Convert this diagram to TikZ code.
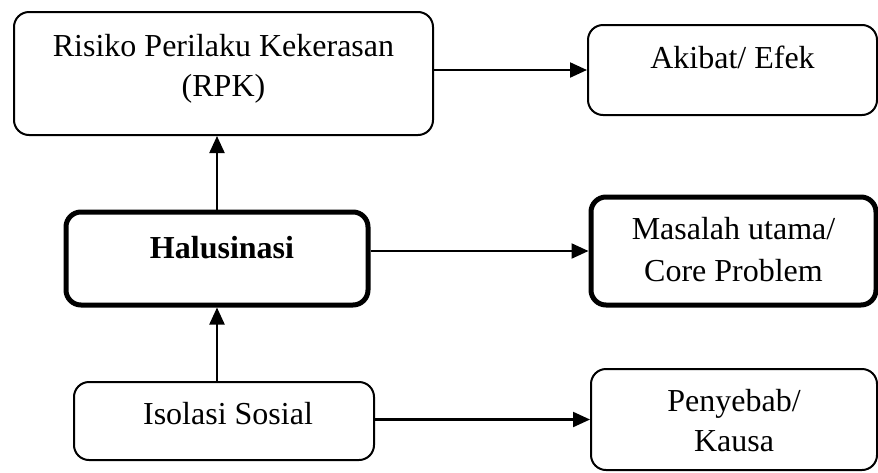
\documentclass[tikz,border=0pt]{standalone}
\usepackage{fontspec}
\setmainfont{Liberation Serif}
\usetikzlibrary{arrows.meta}
\begin{document}
\begin{tikzpicture}[x=1pt,y=-1pt,
  box/.style={draw, rectangle, rounded corners=15pt, line width=2pt, inner sep=0pt},
  corebox/.style={box, line width=5pt},
  txt/.style={align=center, inner sep=0pt, font=\fontsize{32}{40}\selectfont},
  link/.style={line width=2.2pt, -{Triangle[length=17pt,width=15pt]}}]
  \useasboundingbox (0,0) rectangle (878,472);

  % boxes
  \node[box, minimum width=419pt, minimum height=123pt] (rpk) at (223.5,73.5) {};
  \node[box, minimum width=289pt, minimum height=90pt] (efek) at (732.5,70) {};
  \node[corebox, minimum width=302pt, minimum height=93pt] (hal) at (217,258.5) {};
  \node[corebox, minimum width=285pt, minimum height=108pt] (core) at (733.5,251) {};
  \node[box, minimum width=300pt, minimum height=78pt] (iso) at (224,421) {};
  \node[box, minimum width=286pt, minimum height=101pt] (kausa) at (734,419.5) {};

  % labels
  \node[txt] (rpkt) at (223.5,69) {Risiko Perilaku Kekerasan\\(RPK)};
  \node[txt] (efekt) at (732.5,57) {Akibat/ Efek};
  \node[txt, font=\fontsize{32}{40}\selectfont\bfseries] (halt) at (222,248) {Halusinasi};
  \node[txt, font=\fontsize{32}{42}\selectfont] (coret) at (733.5,250) {Masalah utama/\\Core Problem};
  \node[txt] (isot) at (228,414) {Isolasi Sosial};
  \node[txt] (kausat) at (734,421) {Penyebab/\\Kausa};

  % connectors
  \draw[link] (rpk.east |- efek.west) -- (efek.west);
  \draw[link] (hal.east |- core.west) -- (core.west);
  \draw[link] (iso.east |- kausa.west) -- (kausa.west);
  \draw[link] (hal.north) -- (hal.north |- rpk.south);
  \draw[link] (iso.north -| hal.north) -- (hal.south);
\end{tikzpicture}
\end{document}
